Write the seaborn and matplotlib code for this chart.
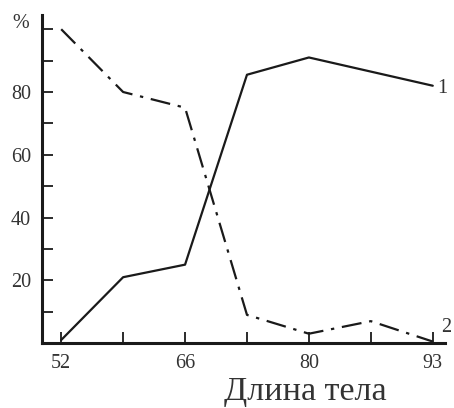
import matplotlib
matplotlib.use("Agg")
import matplotlib.pyplot as plt
import seaborn as sns
import pandas as pd

# Body-length classes (evenly spaced on the axis); only every other one is labelled
length_classes = [52, 59, 66, 73, 80, 86.5, 93]
tick_labels = ["52", "", "66", "", "80", "", "93"]
series1 = [1, 21, 25, 85.5, 91, 86.5, 82]
series2 = [100, 80, 75, 9, 3, 7, 0.5]
series_names = ["1", "2"]

sns.set_theme(style="white")
plt.rcParams["font.family"] = ["Liberation Serif", "DejaVu Serif"]

pos = list(range(len(length_classes)))
df = pd.DataFrame({
    "pos": pos * 2,
    "value": series1 + series2,
    "series": [series_names[0]] * len(pos) + [series_names[1]] * len(pos),
})

fig = plt.figure(figsize=(4.54, 4.08), dpi=100)
ax = fig.add_axes([0.0925, 0.159, 0.888, 0.804])

sns.lineplot(data=df[df.series == "1"], x="pos", y="value", ax=ax,
             color="#1a1a1a", linewidth=1.6, legend=False)
sns.lineplot(data=df[df.series == "2"], x="pos", y="value", ax=ax,
             color="#1a1a1a", linewidth=1.6, legend=False)
ax.lines[1].set_linestyle((0, (9, 3.5, 1.5, 3.5)))

ax.set_xlim(-0.31, 6.2)
ax.set_ylim(0, 104.5)

for s in ["top", "right"]:
    ax.spines[s].set_visible(False)
for s in ["left", "bottom"]:
    ax.spines[s].set_color("#1a1a1a")
    ax.spines[s].set_linewidth(2.2)

ax.set_xticks(pos)
ax.set_xticklabels(tick_labels)
ax.set_yticks([20, 40, 60, 80])
ax.set_yticks([10, 30, 50, 70, 90, 100], minor=True)
ax.tick_params(axis="both", which="both", direction="in", length=8,
               width=1.3, color="#1a1a1a", labelsize=14.5, labelcolor="#333333",
               left=True, bottom=True)
ax.tick_params(axis="y", which="both", pad=8)
ax.tick_params(axis="x", pad=8)

ax.set_xlabel("")
ax.set_ylabel("")
ax.text(0.653, -0.174, "Длина тела", transform=ax.transAxes, fontsize=24.5,
        color="#333333", ha="center", va="baseline")

ax.text(-0.052, 0.975, "%", transform=ax.transAxes, fontsize=14.5,
        color="#333333", ha="center", va="center")
ax.text(6.16, series1[-1] - 1, series_names[0], fontsize=14.5, color="#333333",
        ha="center", va="center", clip_on=False)
ax.text(6.22, series2[-1] + 4.5, series_names[1], fontsize=14.5, color="#333333",
        ha="center", va="center", clip_on=False)

fig.savefig("out.png", dpi=100, facecolor="white")
